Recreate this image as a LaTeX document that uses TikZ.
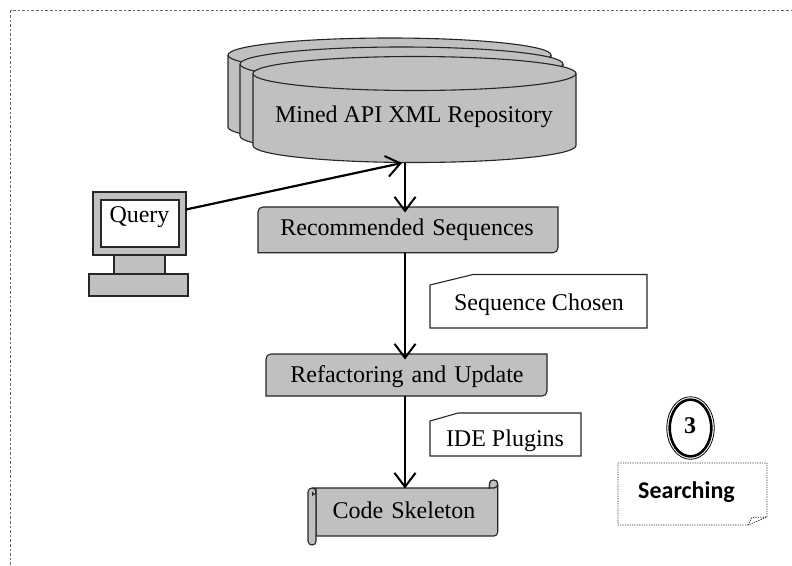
\documentclass[tikz,border=0pt]{standalone}
\usepackage{fontspec}
\setmainfont{Liberation Serif}
\newfontfamily\labelfont{Carlito}
\usetikzlibrary{arrows.meta}
\definecolor{boxgray}{RGB}{192,192,192}
\tikzset{
  every node/.style={font=\fontsize{24}{28}\selectfont, text=black, inner sep=0pt, outer sep=0pt, anchor=base},
  barbtip/.tip={Straight Barb[length=14pt,width=21pt,line width=2pt]},
  flow/.style={line width=2.2pt, -barbtip, line cap=butt},
  grayshape/.style={draw=black!85, fill=boxgray, line width=1.1pt},
  cardshape/.style={draw=black!85, fill=white, line width=1.1pt},
  framedot/.style={draw=black!60, line width=1.2pt, dash pattern=on 2.6pt off 2pt},
  notedot/.style={draw=black!80, line width=0.8pt, dash pattern=on 1.2pt off 1.2pt}
}
\newcommand{\drumshape}[2]{%
  \pgfmathsetmacro{\xl}{#1}\pgfmathsetmacro{\xr}{#1+323}\pgfmathsetmacro{\xm}{#1+161.5}
  \pgfmathsetmacro{\ya}{#2}\pgfmathsetmacro{\yb}{#2+72}
  \pgfmathsetmacro{\xc}{#1+72.3}\pgfmathsetmacro{\xd}{#1+250.7}
  \path[grayshape] (\xl,\ya) -- (\xl,\yb) .. controls (\xl,\yb+9.4) and (\xc,\yb+17) .. (\xm,\yb+17)
    .. controls (\xd,\yb+17) and (\xr,\yb+9.4) .. (\xr,\yb) -- (\xr,\ya)
    .. controls (\xr,\ya-9.4) and (\xd,\ya-17) .. (\xm,\ya-17)
    .. controls (\xc,\ya-17) and (\xl,\ya-9.4) .. (\xl,\ya) -- cycle;
  \draw[line width=1.1pt, draw=black!85] (\xl,\ya) .. controls (\xl,\ya+9.4) and (\xc,\ya+17) .. (\xm,\ya+17)
    .. controls (\xd,\ya+17) and (\xr,\ya+9.4) .. (\xr,\ya);}
\begin{document}
\begin{tikzpicture}[x=1pt,y=-1pt]
\useasboundingbox (0,0) rectangle (792,565);
\draw[framedot] (10.8,565) -- (10.8,10.7) -- (792,10.7);
% drums
\drumshape{228}{55}
\drumshape{240}{64}
\drumshape{253}{73.5}
\node (repo) at (414,122.5) {Mined API XML Repository};
\coordinate (repob) at (405,162.5);
% computer
\path[grayshape] (93,192) rectangle (186,255);
\path[cardshape] (101,200) rectangle (179,247);
\path[grayshape] (114,255) rectangle (165,274);
\path[grayshape] (89,274) rectangle (188,296);
\node (query) at (139.5,222) {Query};
\coordinate (pc) at (186,209.5);
\coordinate (repoin) at (402,163);
% recommended
\path[grayshape] (258,252.7) -- (258,212) .. controls (258,209) and (260,207) .. (263,207) -- (558,207)
  -- (558,247.5) .. controls (558,250.5) and (556,252.7) .. (553,252.7) -- cycle;
\node[text width=300pt, align=center, text height=28pt, text depth=17.7pt] (rec) at (407,235) {Recommended Sequences};
% refactoring
\path[grayshape] (266,396) -- (266,359) .. controls (266,356) and (268,354) .. (271,354) -- (547,354)
  -- (547,391) .. controls (547,394) and (545,396) .. (542,396) -- cycle;
\node[text width=281pt, align=center, text height=28.7pt, text depth=13.3pt] (refa) at (407,382.7) {Refactoring and Update};
% cards
\path[cardshape] (430,285) -- (473,274.5) -- (647,274.5) -- (647,328) -- (430,328) -- cycle;
\node (seq) at (539,310.7) {Sequence Chosen};
\path[cardshape] (430,421) -- (458,413) -- (581,413) -- (581,456) -- (430,456) -- cycle;
\node (ide) at (505,446.7) {IDE Plugins};
% scroll
\path[grayshape] (312,488) -- (489.5,488) -- (489.5,484) .. controls (489.5,481.5) and (491,480) .. (493.5,480)
  .. controls (496,480) and (497.7,481.5) .. (497.7,484) -- (497.7,532) .. controls (497.7,534.5) and (496,536) .. (494,536)
  -- (316,536) -- (316,488) -- cycle;
\path[grayshape] (489.5,488) -- (494,488) .. controls (496,488) and (497.7,486) .. (497.7,484) .. controls (497.7,481.5) and (496,480) .. (493.5,480) .. controls (491,480) and (489.5,481.5) .. (489.5,484) -- cycle;
\path[grayshape] (308,492) .. controls (308,489.5) and (310,488) .. (312,488) .. controls (314.5,488) and (316,489.5) .. (316,492)
  -- (316,541) .. controls (316,543.5) and (314.5,545) .. (312,545) .. controls (310,545) and (308,543.5) .. (308,541) -- cycle;
\draw[line width=1pt, draw=black!85] (316,492) .. controls (316,495) and (312.5,495) .. (312.5,492.5) -- (312.5,496);
\node[text width=190pt, align=center, text height=30pt, text depth=18pt] (code) at (404,518) {Code Skeleton};
% connectors
\coordinate (spine) at (405,0);
\draw[flow] (pc) -- (repoin);
\draw[flow] (repob) -- ([yshift=-5.5pt]spine |- rec.north);
\draw[flow] (spine |- rec.south) -- ([yshift=-5.5pt]spine |- refa.north);
\draw[flow] (spine |- refa.south) -- ([yshift=-0.5pt]spine |- code.north);
% badge
\draw[line width=0.8pt] (690.5,428) ellipse[x radius=23.7, y radius=31.3];
\draw[line width=2.6pt] (690.5,428) ellipse[x radius=20.8, y radius=28.4];
\node[font=\fontsize{24}{28}\selectfont\bfseries] (three) at (690,433) {3};
% note
\path[notedot] (618,463) -- (767,463) -- (767,517) -- (748,525) -- (618,525) -- cycle;
\draw[notedot] (748,525) -- (752,517.5) -- (767,517);
\node[font=\labelfont\fontsize{24}{28}\selectfont\bfseries] (note) at (686.5,498) {Searching};
\end{tikzpicture}
\end{document}
